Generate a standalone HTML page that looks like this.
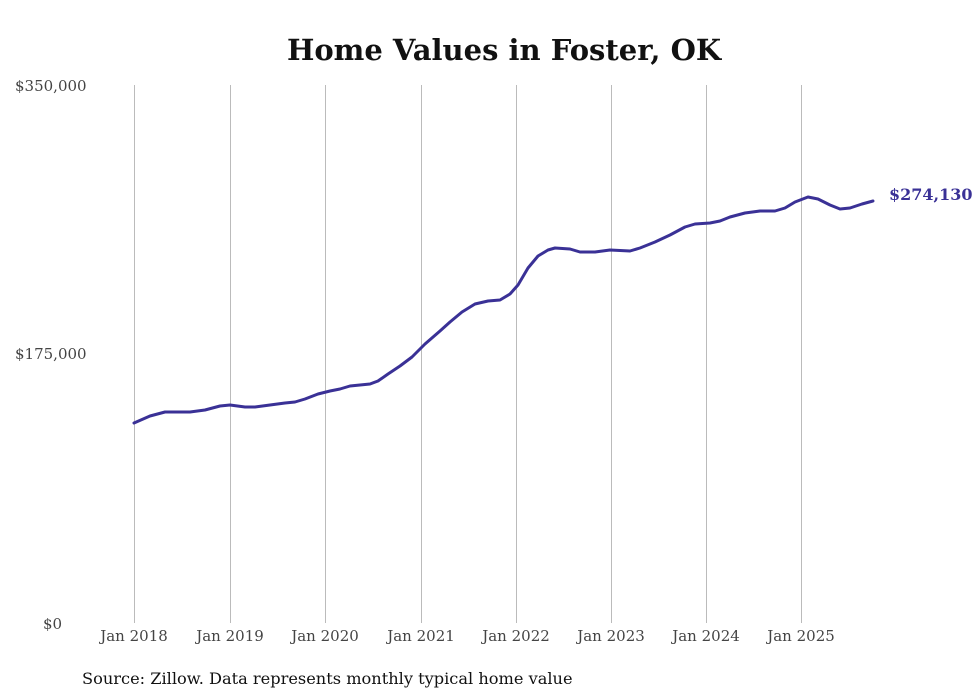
<!DOCTYPE html>
<html><head><meta charset="utf-8"><style>
body{margin:0;background:#fff;}
svg{display:block;font-family:"DejaVu Serif","Liberation Serif",serif;}
</style></head><body>
<svg width="980" height="699" viewBox="0 0 980 699">
<rect width="980" height="699" fill="#fff"/>
<text x="504" y="60" text-anchor="middle" font-size="29" font-weight="bold" fill="#111">Home Values in Foster, OK</text>
<g stroke="#bbb" stroke-width="1">
<line x1="134.5" y1="85" x2="134.5" y2="623"/>
<line x1="230.5" y1="85" x2="230.5" y2="623"/>
<line x1="325.5" y1="85" x2="325.5" y2="623"/>
<line x1="421.5" y1="85" x2="421.5" y2="623"/>
<line x1="516.5" y1="85" x2="516.5" y2="623"/>
<line x1="611.5" y1="85" x2="611.5" y2="623"/>
<line x1="706.5" y1="85" x2="706.5" y2="623"/>
<line x1="801.5" y1="85" x2="801.5" y2="623"/>
</g>
<g font-size="15" fill="#444">
<text x="15" y="91">$350,000</text>
<text x="15" y="359">$175,000</text>
<text x="43" y="629">$0</text>
</g>
<g font-size="15" fill="#444" text-anchor="middle">
<text x="134" y="641">Jan 2018</text>
<text x="230" y="641">Jan 2019</text>
<text x="325" y="641">Jan 2020</text>
<text x="421" y="641">Jan 2021</text>
<text x="516" y="641">Jan 2022</text>
<text x="611" y="641">Jan 2023</text>
<text x="706" y="641">Jan 2024</text>
<text x="801" y="641">Jan 2025</text>
</g>
<polyline fill="none" stroke="#3a3196" stroke-width="3" stroke-linejoin="round" stroke-linecap="round" points="134,423 150,416 165,412 190,412 205,410 220,406 230,405 245,407 255,407 270,405 285,403 295,402 305,399 318,394 330,391 340,389 350,386 360,385 370,384 378,381 388,374 400,366 412,357 425,344 440,331 450,322 462,312 475,304 488,301 500,300 510,294 518,285 528,268 538,256 548,250 555,248 570,249 580,252 595,252 610,250 630,251 640,248 655,242 670,235 685,227 695,224 710,223 720,221 730,217 745,213 760,211 775,211 785,208 795,202 808,197 818,199 830,205 840,209 850,208 862,204 873,201"/>
<text x="889" y="200" font-size="16" font-weight="bold" fill="#3a3196">$274,130</text>
<text x="82" y="684" font-size="16.2" fill="#111">Source: Zillow. Data represents monthly typical home value</text>
</svg>
</body></html>
